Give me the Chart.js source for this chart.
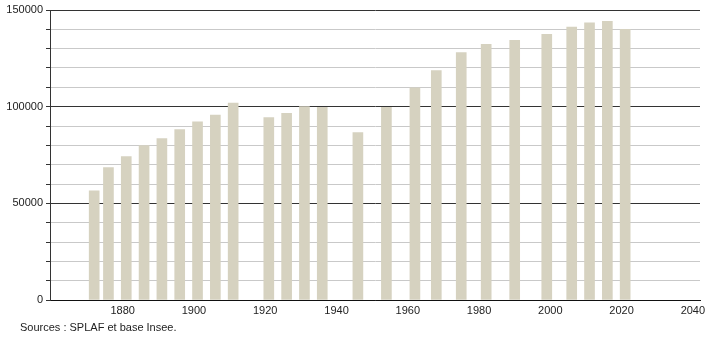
<!DOCTYPE html>
<html>
<head>
<meta charset="utf-8">
<script src="https://cdn.jsdelivr.net/npm/chart.js@4/dist/chart.umd.min.js"></script>
<style>
  html, body { margin: 0; padding: 0; background: #fff; }
  #wrap { width: 710px; height: 340px; position: relative; }
</style>
</head>
<body>
<div id="wrap"><canvas id="c"></canvas></div>
<script>
// census years and population
const years = [1872, 1876, 1881, 1886, 1891, 1896, 1901, 1906, 1911, 1921, 1926, 1931, 1936,
  1946, 1954, 1962, 1968, 1975, 1982, 1990, 1999, 2006, 2011, 2016, 2021];
const population = [56500, 68500, 74200, 79900, 83500, 88200, 92200, 95600, 101800, 94400, 96500, 100100, 99700,
  86600, 99700, 109800, 118700, 128000, 132200, 134300, 137400, 141200, 143400, 144100, 140000];
const xTicks = [1880, 1900, 1920, 1940, 1960, 1980, 2000, 2020, 2040];
const sourceText = 'Sources : SPLAF et base Insee.';

const font = '"Liberation Sans", Arial, sans-serif';
const dark = '#333333';
const light = '#c9c9c9';

const sourcePlugin = {
  id: 'sourceText',
  afterDraw(chart) {
    const { ctx } = chart;
    ctx.save();
    ctx.fillStyle = '#222';
    ctx.font = '11px ' + font;
    ctx.textAlign = 'left';
    ctx.textBaseline = 'middle';
    ctx.fillText(sourceText, 20, 328);
    ctx.restore();
  }
};

new Chart(document.getElementById('c'), {
  type: 'bar',
  data: {
    datasets: [{
      data: years.map((y, i) => ({ x: y, y: population[i] })),
      backgroundColor: '#d6d2c0',
      borderWidth: 0,
      barThickness: 10
    }]
  },
  options: {
    responsive: true,
    maintainAspectRatio: false,
    animation: false,
    layout: { padding: { top: 10, right: 10, bottom: 0, left: 0 } },
    plugins: { legend: { display: false }, tooltip: { enabled: false } },
    scales: {
      x: {
        type: 'linear',
        offset: false,
        min: 1859.6,
        max: 2042,
        afterBuildTicks(scale) { scale.ticks = xTicks.map(v => ({ value: v })); },
        afterFit(scale) { scale.height = 40; },
        grid: { display: false, drawTicks: false, offset: false },
        border: { color: '#111', width: 1 },
        ticks: { color: '#222', font: { family: font, size: 11 }, padding: 4, maxRotation: 0, autoSkip: false,
          callback: v => String(v) }
      },
      y: {
        min: 0,
        max: 150000,
        afterFit(scale) { scale.width = 50; },
        grid: {
          color: ctx => (ctx.tick && ctx.tick.value % 50000 === 0) ? dark : light,
          tickColor: dark,
          tickLength: 4,
          lineWidth: 1
        },
        border: { color: dark, width: 1 },
        ticks: {
          stepSize: 10000,
          color: '#222',
          font: { family: font, size: 11 },
          padding: 3,
          autoSkip: false,
          callback: v => (v % 50000 === 0) ? String(v) : ''
        }
      }
    }
  },
  plugins: [sourcePlugin]
});
</script>
</body>
</html>
